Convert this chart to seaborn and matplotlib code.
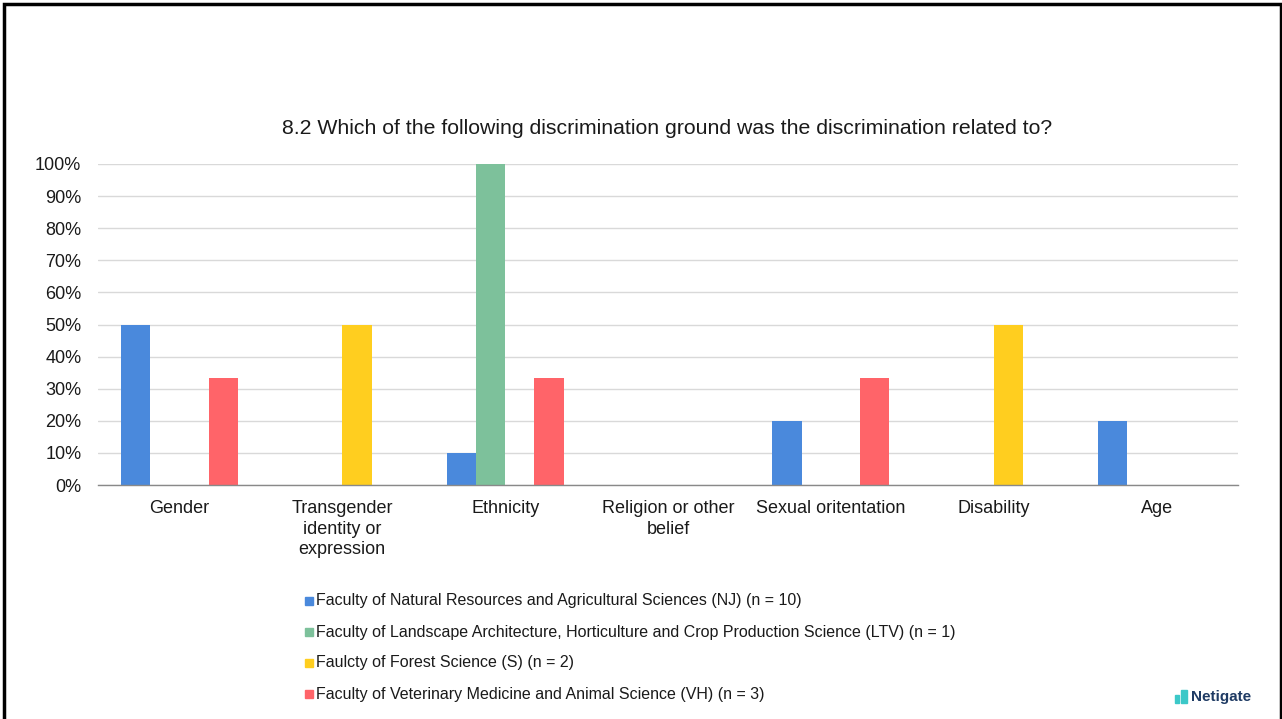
import matplotlib
matplotlib.use("Agg")
import matplotlib.pyplot as plt
import seaborn as sns
import pandas as pd
from matplotlib.patches import Rectangle
from matplotlib.ticker import PercentFormatter

categories = ["Gender", "Transgender\nidentity or\nexpression", "Ethnicity",
              "Religion or other\nbelief", "Sexual oritentation", "Disability", "Age"]
series = [
    "Faculty of Natural Resources and Agricultural Sciences (NJ) (n = 10)",
    "Faculty of Landscape Architecture, Horticulture and Crop Production Science (LTV) (n = 1)",
    "Faulcty of Forest Science (S) (n = 2)",
    "Faculty of Veterinary Medicine and Animal Science (VH) (n = 3)",
]
nj = [50, 0, 10, 0, 20, 0, 20]
ltv = [0, 0, 100, 0, 0, 0, 0]
s = [0, 50, 0, 0, 0, 50, 0]
vh = [33.3, 0, 33.3, 0, 33.3, 0, 0]
colors = ["#4A89DC", "#7DC19B", "#FFCE1F", "#FF6469"]

rows = []
for name, vals in zip(series, [nj, ltv, s, vh]):
    for c, v in zip(categories, vals):
        rows.append({"cat": c, "series": name, "val": v})
df = pd.DataFrame(rows)

sns.set_theme(style="white")
plt.rcParams["font.family"] = ["Liberation Sans", "DejaVu Sans"]

fig = plt.figure(figsize=(12.82, 7.19), dpi=100)
ax = fig.add_axes([98/1282, 1-485/719, (1238-98)/1282, (485-164)/719])
sns.barplot(data=df, x="cat", y="val", hue="series", order=categories,
            hue_order=series, palette=colors, width=0.72, ax=ax,
            saturation=1, legend=False, errorbar=None, linewidth=0)

ax.set_ylim(0, 100)
ax.set_xlim(-0.5, len(categories) - 0.5)
ax.set_yticks(range(0, 101, 10))
ax.yaxis.set_major_formatter(PercentFormatter(decimals=0))
ax.grid(axis="y", color="#D9D9D9", linewidth=1)
ax.set_axisbelow(True)
for sp in ["top", "right", "left"]:
    ax.spines[sp].set_visible(False)
ax.spines["bottom"].set_color("#898989")
ax.spines["bottom"].set_linewidth(1)
ax.tick_params(axis="both", length=0, labelsize=13, colors="#1a1a1a")
ax.tick_params(axis="x", pad=11)
ax.tick_params(axis="y", pad=12)
ax.set_xlabel("")
ax.set_ylabel("")
for lbl in ax.get_xticklabels():
    lbl.set_linespacing(1.25)
    lbl.set_verticalalignment("top")

fig.text(667/1282, 1-129/719, "8.2 Which of the following discrimination ground was the discrimination related to?",
         ha="center", va="center", fontsize=15.3, color="#1a1a1a")

# legend
leg_y = [601, 632, 663, 694]
for name, col, y in zip(series, colors, leg_y):
    fig.patches.append(Rectangle((305/1282, 1-(y+4)/719), 8/1282, 8/719,
                                 transform=fig.transFigure, color=col))
    fig.text(316/1282, 1-y/719, name, ha="left", va="center", fontsize=11.5, color="#1a1a1a")

# logo
for xo, h, w in [(1175, 8, 4), (1181, 13, 6)]:
    fig.patches.append(Rectangle((xo/1282, 1-703/719), w/1282, h/719,
                                 transform=fig.transFigure, color="#3CC8C8"))
fig.text(1191/1282, 1-697/719, "Netigate", ha="left", va="center", fontsize=11,
         fontweight="bold", color="#1F3B64")

# frame
fig.patches.append(Rectangle((4/1282, -0.01), 1276.5/1282, 1 - 4/719 + 0.01,
                             transform=fig.transFigure, fill=False,
                             edgecolor="black", linewidth=2.5))

fig.savefig("out.png", dpi=100)
